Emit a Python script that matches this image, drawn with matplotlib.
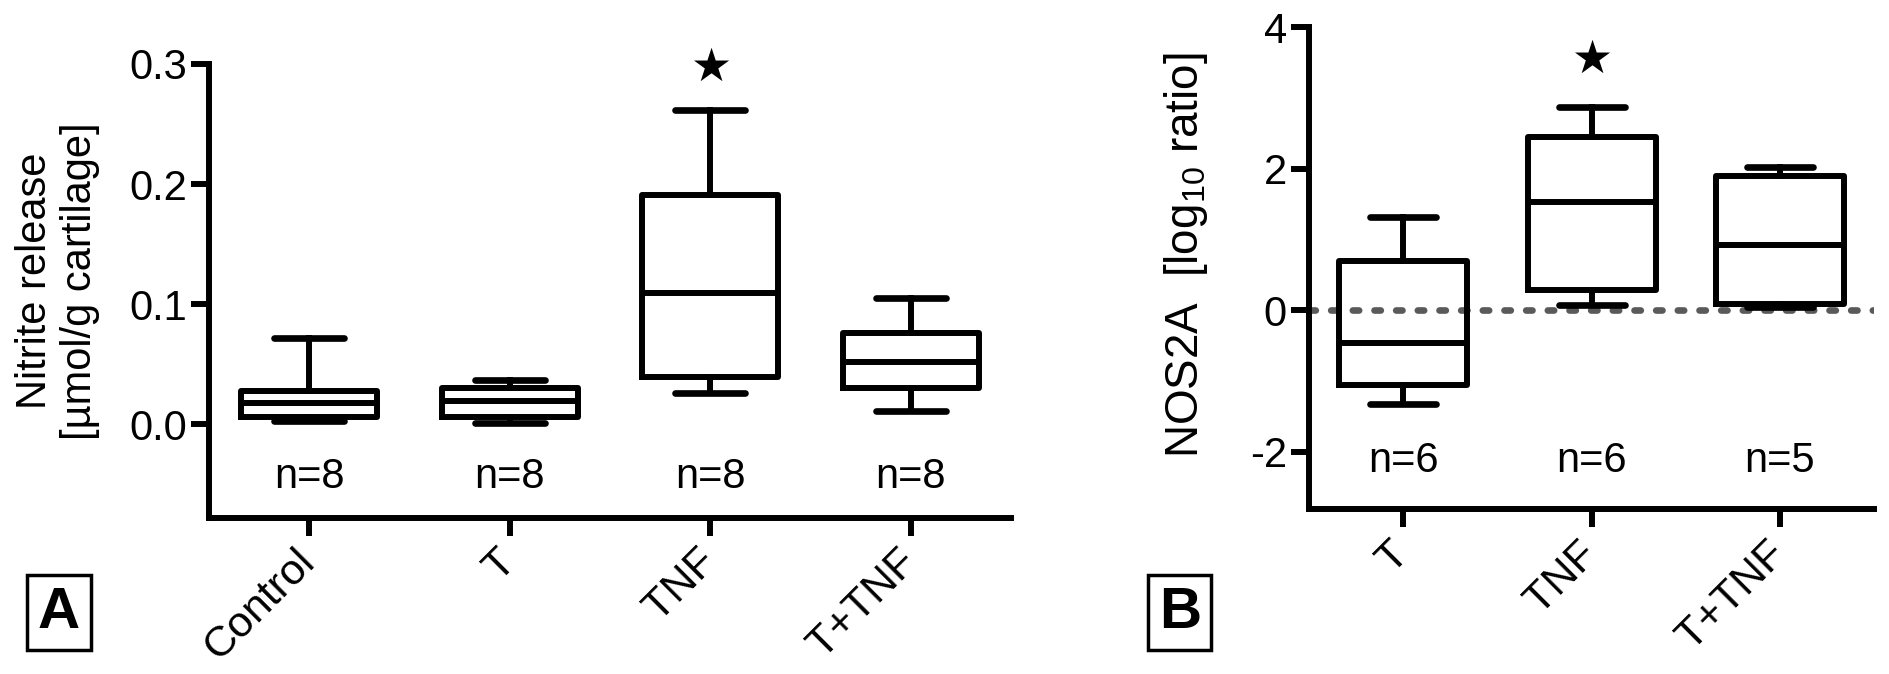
import matplotlib
matplotlib.use("Agg")
import matplotlib.pyplot as plt

plt.rcParams["font.family"] = ["Liberation Sans", "DejaVu Sans"]
plt.rcParams["mathtext.fontset"] = "custom"
plt.rcParams["mathtext.rm"] = "Liberation Sans"
plt.rcParams["mathtext.it"] = "Liberation Sans:italic"

# Panel A: nitrite release (box stats)
groups_a = ["Control", "T", "TNF", "T+TNF"]
whislo_a = [0.003, 0.001, 0.026, 0.011]
q1_a = [0.006, 0.006, 0.039, 0.030]
med_a = [0.018, 0.019, 0.109, 0.052]
q3_a = [0.028, 0.030, 0.191, 0.076]
whishi_a = [0.072, 0.037, 0.262, 0.105]
n_a = [8, 8, 8, 8]
star_a = "TNF"

# Panel B: NOS2A log10 ratio
groups_b = ["T", "TNF", "T+TNF"]
whislo_b = [-1.33, 0.07, 0.05]
q1_b = [-1.06, 0.28, 0.08]
med_b = [-0.46, 1.53, 0.92]
q3_b = [0.69, 2.44, 1.90]
whishi_b = [1.31, 2.87, 2.02]
n_b = [6, 6, 5]
star_b = "TNF"

TICK_FS = 30
XLAB_FS = 31
LW = 4.3


def stats(lo, q1, med, q3, hi):
    return [dict(whislo=a, q1=b, med=c, q3=d, whishi=e, fliers=[])
            for a, b, c, d, e in zip(lo, q1, med, q3, hi)]


def draw_boxes(ax, st):
    ax.bxp(st, positions=range(len(st)), widths=0.68, capwidths=0.35,
           showfliers=False,
           boxprops=dict(color="black", linewidth=LW),
           medianprops=dict(color="black", linewidth=LW, solid_capstyle="butt"),
           whiskerprops=dict(color="black", linewidth=LW),
           capprops=dict(color="black", linewidth=4.8, solid_capstyle="round"))


def style_axis(ax):
    for side in ["top", "right"]:
        ax.spines[side].set_visible(False)
    for side in ["left", "bottom"]:
        ax.spines[side].set_linewidth(LW)
    ax.tick_params(axis="both", width=LW, length=13, direction="out",
                   labelsize=TICK_FS, pad=3)


fig = plt.figure(figsize=(18.9, 6.74), dpi=100)

# ---- Panel A ----
ax1 = fig.add_axes([0.1106, 0.2315, 0.4243, 0.6736])
draw_boxes(ax1, stats(whislo_a, q1_a, med_a, q3_a, whishi_a))
ax1.set_xlim(-0.5, 3.5)
ax1.set_ylim(-0.078, 0.3)
ax1.set_yticks([0.0, 0.1, 0.2, 0.3])
ax1.set_yticklabels(["0.0", "0.1", "0.2", "0.3"])
style_axis(ax1)
ax1.set_xticks(range(len(groups_a)))
ax1.set_xticklabels(groups_a, rotation=45, ha="right", va="center",
                    rotation_mode="anchor", fontsize=XLAB_FS)
ax1.tick_params(axis="x", pad=14)
ax1.set_ylabel("Nitrite release\n[µmol/g cartilage]", fontsize=30,
               linespacing=1.15)
ax1.yaxis.set_label_coords(-0.136, 0.522)
for i, n in enumerate(n_a):
    ax1.text(i, -0.044, f"n={n}", ha="center", va="center", fontsize=TICK_FS)
ax1.text(groups_a.index(star_a), 0.296, "★", ha="center", va="center",
         fontsize=33, family="DejaVu Sans")

# ---- Panel B ----
ax2 = fig.add_axes([0.6926, 0.2448, 0.2990, 0.7151])
ax2.axhline(0, color="#5a5a5a", linewidth=4.8, linestyle=(0, (0.95, 2.3)),
            dash_capstyle="round", zorder=0)
draw_boxes(ax2, stats(whislo_b, q1_b, med_b, q3_b, whishi_b))
ax2.set_xlim(-0.5, 2.5)
ax2.set_ylim(-2.81, 4)
ax2.set_yticks([-2, 0, 2, 4])
ax2.set_yticklabels(["-2", "0", "2", "4"])
style_axis(ax2)
ax2.set_xticks(range(len(groups_b)))
ax2.set_xticklabels(groups_b, rotation=45, ha="right", va="center",
                    rotation_mode="anchor", fontsize=XLAB_FS)
ax2.tick_params(axis="x", pad=15)
ax2.set_ylabel("NOS2A  [log$_{10}$ ratio]", fontsize=33)
ax2.yaxis.set_label_coords(-0.175, 0.527)
for i, n in enumerate(n_b):
    ax2.text(i, -2.13, f"n={n}", ha="center", va="center", fontsize=TICK_FS)
ax2.text(groups_b.index(star_b), 3.53, "★", ha="center", va="center",
         fontsize=33, family="DejaVu Sans")

# panel letters
for x, letter in [(0.0312, "A"), (0.6243, "B")]:
    fig.text(x, 0.091, letter, ha="center", va="center", fontsize=42,
             fontweight="bold",
             bbox=dict(boxstyle="square,pad=0.18", facecolor="white",
                       edgecolor="black", linewidth=2.5))

fig.savefig("out.png", dpi=100)
